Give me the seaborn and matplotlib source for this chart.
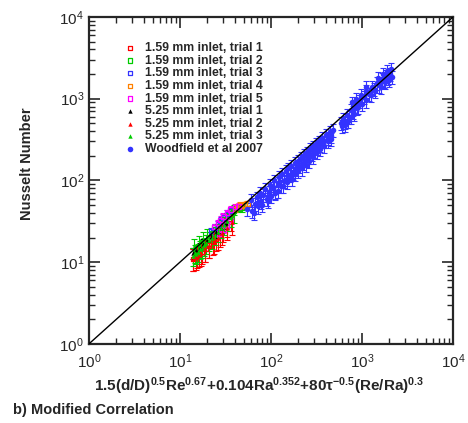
import numpy as np
import matplotlib
matplotlib.use("Agg")
import matplotlib.pyplot as plt
import seaborn as sns

# 1.59 mm inlet trials (hollow squares)
t1_x = [14.0, 15.0, 16.0, 17.5, 19.0, 21.0, 23.0, 25.0, 27.5, 30.0, 33.0, 36.0]
t1_y = [11.0, 11.5, 12.5, 13.5, 14.5, 16.0, 17.5, 19.5, 22.0, 25.0, 29.0, 34.0]
t2_x = [36.0, 39.0, 42.0, 45.0, 48.0, 52.0]
t2_y = [38.0, 42.0, 45.0, 47.0, 46.0, 50.0]
t3_x = [22.0, 24.0, 26.0, 28.0, 30.0, 33.0, 36.0]
t3_y = [24.0, 26.5, 29.0, 32.0, 35.0, 39.0, 43.0]
t4_x = [40.0, 43.0, 46.0, 49.0, 52.0, 55.0]
t4_y = [45.0, 48.0, 50.0, 49.0, 51.0, 52.0]
t5_x = [24.0, 26.0, 28.0, 30.0, 33.0, 36.0, 40.0, 44.0, 27.0, 30.0, 33.0, 36.0]
t5_y = [27.0, 30.0, 33.0, 36.0, 40.0, 44.0, 47.0, 48.0, 22.0, 25.0, 29.0, 33.0]

# 5.25 mm inlet trials (filled triangles)
b1_x = [14.0, 15.0, 16.5, 18.0, 20.0, 22.0, 25.0, 28.0, 32.0]
b1_y = [13.0, 14.0, 15.0, 16.5, 18.5, 20.5, 23.5, 26.5, 30.0]
b2_x = [14.0, 15.5, 17.0, 19.0, 21.0, 23.5, 26.0, 29.0, 33.0, 37.0]
b2_y = [11.0, 12.0, 13.0, 14.5, 16.0, 18.0, 20.0, 23.0, 26.5, 31.0]
b3_x = [14.0, 14.5, 15.0, 15.8, 16.5, 17.5, 18.5, 19.5, 21.0, 22.5, 24.0, 26.0, 28.0,
        30.5, 33.0, 36.0, 39.0, 14.2, 16.0, 18.0, 20.0]
b3_y = [12.0, 13.0, 12.5, 13.5, 14.5, 15.0, 16.0, 17.0, 18.5, 19.5, 21.5, 23.5, 26.0,
        28.5, 32.0, 36.0, 40.0, 15.5, 16.5, 18.5, 20.5]

# Woodfield et al 2007 (filled circles)
w_x = [55, 60, 62, 66, 70, 72, 75, 78, 82, 86, 90, 95, 98,
       105, 108, 112, 118, 122, 128, 132, 138, 145, 150, 155, 162, 168, 175, 182, 190,
       198, 205, 215, 225, 232, 240, 250, 260, 270, 280, 290, 300,
       310, 320, 335, 350, 365, 380, 400, 420, 440, 460, 480,
       590, 620, 650, 680, 720, 760, 800, 840, 880,
       780, 850, 920, 980, 1050, 1120, 1200, 1280, 1350, 1450, 1550, 1650, 1750, 1850,
       1950, 2050, 2150, 1900, 1500, 1100,
       65, 80, 92, 100, 110, 120, 135, 150, 170, 185, 200, 220, 240, 265, 290, 320,
       350, 380, 420, 460, 600, 650, 700, 760, 820, 900, 1000, 1100, 1250, 1400, 1600,
       1800, 2000, 2100, 1700]
w_y = [45, 58, 42, 52, 62, 48, 70, 55, 66, 78, 60, 72, 88,
       80, 100, 72, 92, 110, 85, 120, 98, 130, 105, 140, 115, 150, 125, 165, 140,
       175, 150, 190, 165, 205, 180, 220, 195, 240, 210, 260, 230,
       280, 250, 300, 275, 330, 300, 360, 330, 390, 350, 410,
       500, 560, 520, 640, 600, 720, 680, 800, 760,
       900, 1000, 950, 1100, 1050, 1250, 1150, 1400, 1300, 1550, 1450, 1750, 1650, 1900,
       1800, 2000, 1850, 2200, 1800, 1400,
       40, 50, 56, 65, 70, 75, 85, 95, 105, 120, 130, 140, 155, 175, 195, 220,
       240, 265, 300, 320, 460, 480, 540, 600, 650, 800, 850, 950, 1100, 1250, 1400,
       1600, 1700, 2300, 2000]

err_t1, err_t2, err_t3, err_t4, err_t5 = 0.30, 0.10, 0.10, 0.08, 0.10
err_b1, err_b2, err_b3 = 0.15, 0.30, 0.25
err_w = 0.18

sns.set_style("ticks")
plt.rcParams["font.family"] = ["Liberation Sans", "DejaVu Sans"]
plt.rcParams["mathtext.fontset"] = "custom"
plt.rcParams["mathtext.rm"] = "Liberation Sans"
plt.rcParams["mathtext.bf"] = "Liberation Sans:bold"
plt.rcParams["mathtext.it"] = "Liberation Sans:italic"

fig = plt.figure(figsize=(4.68, 4.23), dpi=100)
ax = fig.add_axes([0.190, 0.187, 0.778, 0.773])

series = [
    (t1_x, t1_y, err_t1, "#ff0000", "s", False, "1.59 mm inlet, trial 1"),
    (t2_x, t2_y, err_t2, "#00cc00", "s", False, "1.59 mm inlet, trial 2"),
    (t3_x, t3_y, err_t3, "#3333ff", "s", False, "1.59 mm inlet, trial 3"),
    (t4_x, t4_y, err_t4, "#ff8000", "s", False, "1.59 mm inlet, trial 4"),
    (t5_x, t5_y, err_t5, "#ff00ff", "s", False, "1.59 mm inlet, trial 5"),
    (b1_x, b1_y, err_b1, "#000000", "^", True, "5.25 mm inlet, trial 1"),
    (b2_x, b2_y, err_b2, "#ff0000", "^", True, "5.25 mm inlet, trial 2"),
    (b3_x, b3_y, err_b3, "#00cc00", "^", True, "5.25 mm inlet, trial 3"),
    (w_x, w_y, err_w, "#3333ff", "o", True, "Woodfield et al 2007"),
]

for x, y, e, c, m, filled, lab in series:
    y = np.array(y, dtype=float)
    ax.errorbar(x, y, yerr=e * y, fmt="none", ecolor=c, elinewidth=0.8,
                capsize=2, capthick=0.8, zorder=2)
    if filled:
        size = 16 if m == "o" else 10
        sns.scatterplot(x=x, y=y, color=c, edgecolor=c, marker=m, s=size,
                        linewidth=0, label=lab, ax=ax, zorder=3)
    else:
        sns.scatterplot(x=x, y=y, facecolor="none", edgecolor=c, marker=m, s=10,
                        linewidth=0.9, label=lab, ax=ax, zorder=3)

ax.plot([1, 1e4], [1, 1e4], color="black", linewidth=1, zorder=4)

ax.set_xscale("log")
ax.set_yscale("log")
ax.set_xlim(1, 1e4)
ax.set_ylim(1, 1e4)
ax.tick_params(which="both", direction="in", top=True, right=True, labelsize=11)
ax.tick_params(which="major", length=8, width=1.2)
ax.tick_params(which="minor", length=4, width=1)
ax.tick_params(axis="x", which="major", pad=6)
for s in ax.spines.values():
    s.set_linewidth(1.6)

ax.set_xlabel(r"$\mathbf{1.5(d/D)^{0.5}Re^{0.67}{+}0.104Ra^{0.352}{+}80\tau^{-0.5}(Re/Ra)^{0.3}}$",
              fontsize=11)
ax.xaxis.set_label_coords(0.466, -0.097)
ax.set_ylabel("Nusselt Number", fontsize=10.5, fontweight="bold")
ax.yaxis.set_label_coords(-0.15, 0.55)

ax.legend(loc="upper left", bbox_to_anchor=(0.08, 0.938), frameon=False,
          prop={"weight": "bold", "size": 8.8}, handlelength=1.2,
          handletextpad=0.6, labelspacing=0.05, borderaxespad=0.0,
          markerscale=1.0)

fig.text(0.027, 0.022, "b) Modified Correlation", fontsize=10.5, fontweight="bold")

fig.savefig("out.png", dpi=100)
